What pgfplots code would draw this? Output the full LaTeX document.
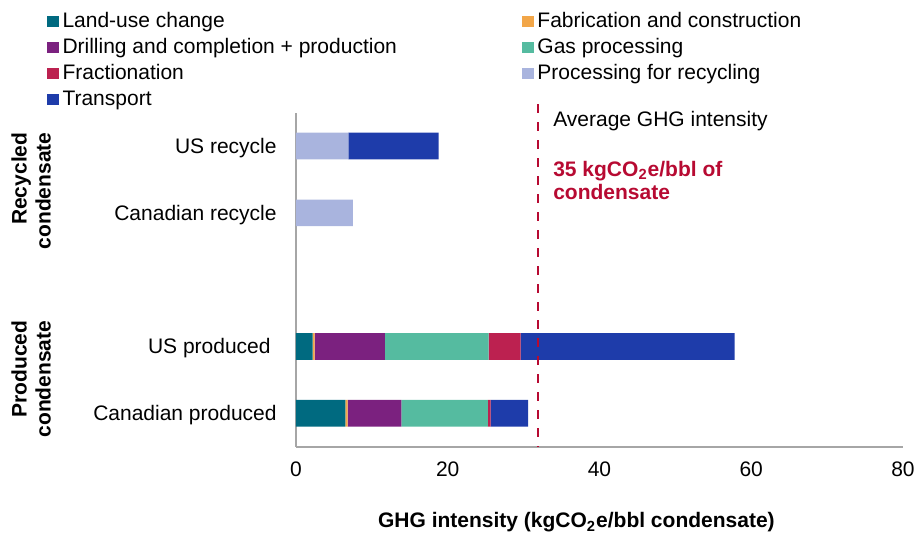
\documentclass[border=0pt]{standalone}
\usepackage{fontspec}
\setmainfont{Liberation Sans}
\usepackage{pgfplots}
\pgfplotsset{compat=1.18}
\definecolor{landuse}{RGB}{0,106,128}
\definecolor{fab}{RGB}{242,166,72}
\definecolor{drill}{RGB}{123,33,127}
\definecolor{gas}{RGB}{85,187,160}
\definecolor{frac}{RGB}{188,33,80}
\definecolor{recyc}{RGB}{169,180,222}
\definecolor{transp}{RGB}{30,60,170}
\definecolor{ghgred}{RGB}{183,10,50}
\pgfplotsset{legsq/.style={legend image code/.code={\fill[##1] (0pt,-2.75pt) rectangle (6pt,2.75pt);}}}
\begin{document}
\begin{tikzpicture}[font=\fontsize{10.5}{12}\selectfont]
\begin{axis}[
  scale only axis, width=303.5pt, height=167pt,
  xmin=0, xmax=80, ymin=-0.5, ymax=4.5,
  xbar stacked, bar width=0.4,
  axis lines*=left,
  axis line style={draw=black!35, line width=1pt},
  xtick={0,20,40,60,80}, ytick={0,1,3,4},
  yticklabels={Canadian produced, US produced\hspace*{3pt}, Canadian recycle, US recycle},
  major tick length=0pt, tick style={draw=none},
  /pgf/number format/assume math mode=true,
  xticklabel style={anchor=center, yshift=-11.5pt, inner sep=0pt},
  yticklabel style={anchor=base east, inner sep=0pt, xshift=-9.5pt, yshift=-3.75pt},
  xlabel={GHG intensity (kgCO\textsubscript{2}e/bbl condensate)},
  xlabel style={font=\fontsize{10.5}{12}\selectfont\bfseries, at={(rel axis cs:0.462,0)}, anchor=base, yshift=-40.65pt, inner sep=0pt},
  clip=false,
  legend columns=2, legend cell align=left,
  legend style={at={(rel axis cs:-0.4102,1.303)}, anchor=north west, draw=none, fill=none, inner sep=0pt, outer sep=0pt,
    nodes={inner sep=0pt, text height=8pt, text depth=2.2pt},
    row sep=2.8pt,
    /tikz/every odd column/.append style={column sep=1.75pt},
    /tikz/every even column/.append style={column sep=62.5pt}},
]
\addplot[fill=landuse, draw=none, legsq] coordinates {(6.5,0) (2.2,1) (0,3) (0,4)};
\addlegendentry{Land-use change}
\addplot[fill=fab, draw=none, legsq] coordinates {(0.3,0) (0.25,1) (0,3) (0,4)};
\addlegendentry{Fabrication and construction}
\addplot[fill=drill, draw=none, legsq] coordinates {(7.1,0) (9.25,1) (0,3) (0,4)};
\addlegendentry{Drilling and completion + production}
\addplot[fill=gas, draw=none, legsq] coordinates {(11.4,0) (13.7,1) (0,3) (0,4)};
\addlegendentry{Gas processing}
\addplot[fill=frac, draw=none, legsq] coordinates {(0.35,0) (4.2,1) (0,3) (0,4)};
\addlegendentry{Fractionation}
\addplot[fill=recyc, draw=none, legsq] coordinates {(0,0) (0,1) (7.5,3) (6.9,4)};
\addlegendentry{Processing for recycling}
\addplot[fill=transp, draw=none, legsq] coordinates {(4.95,0) (28.2,1) (0,3) (11.9,4)};
\addlegendentry{Transport}
\node[rotate=90, align=right, font=\fontsize{10.5}{12}\selectfont\bfseries] at (axis cs:-34.9,3.328) {Recycled\\condensate};
\node[rotate=90, align=right, font=\fontsize{10.5}{12}\selectfont\bfseries] at (axis cs:-34.9,0.513) {Produced\\condensate};
\end{axis}
\begin{axis}[
  scale only axis, width=303.5pt, height=167pt,
  xmin=0, xmax=80, ymin=-0.5, ymax=4.5,
  hide axis, clip=false,
]
\addplot[draw=ghgred, line width=1.4pt, dash pattern=on 4.5pt off 4.5pt] coordinates {(31.9,4.63) (31.9,-0.5)};
\node[anchor=base west, inner sep=0pt] at (axis cs:33.86,4.286) {Average GHG intensity};
\node[anchor=base west, inner sep=0pt, text=ghgred, font=\fontsize{10.5}{12}\selectfont\bfseries] at (axis cs:33.86,3.542) {35 kgCO\textsubscript{2}e/bbl of};
\node[anchor=base west, inner sep=0pt, text=ghgred, font=\fontsize{10.5}{12}\selectfont\bfseries] at (axis cs:33.86,3.193) {condensate};
\end{axis}
\pgfresetboundingbox
\path (-148pt,-43.15pt) rectangle (311pt,223.35pt);
\end{tikzpicture}
\end{document}
